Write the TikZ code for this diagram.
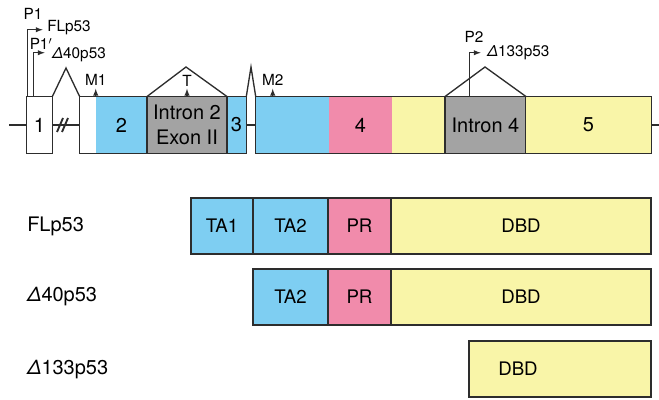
\documentclass[tikz,border=0pt]{standalone}
\usepackage{fontspec}
\setmainfont{TeX Gyre Heros}
\definecolor{tablue}{RGB}{126,206,242}
\definecolor{prpink}{RGB}{241,139,171}
\definecolor{dbdyellow}{RGB}{249,245,168}
\definecolor{introngray}{RGB}{163,163,163}
\definecolor{linecol}{RGB}{45,45,45}
\tikzstyle{part}=[rectangle,inner sep=0pt,minimum height=42pt,font=\fontsize{15}{18.5}\selectfont]
\tikzstyle{pdomain}=[part,draw=linecol,line width=1pt,font=\fontsize{14}{16}\selectfont]
\tikzstyle{wire}=[draw=linecol,line width=1pt]
\tikzstyle{site}=[draw=linecol,line width=0.8pt,-latex]
\tikzstyle{lbl}=[inner sep=0pt,font=\fontsize{11.5}{13}\selectfont]
\tikzstyle{iso}=[inner sep=0pt,anchor=west,font=\fontsize{15}{17}\selectfont]
\begin{document}
\begin{tikzpicture}[x=0.75pt,y=-0.75pt]
\useasboundingbox (0,0) rectangle (659,399);
% gene
\node[part,minimum width=18.75pt] (e1) at (39.5,125) {1};
\node[part,minimum width=12pt,fill=white] (e2a) at (88,125) {};
\node[part,minimum width=38.25pt,fill=tablue] (e2b) at (121.5,125) {2};
\node[part,minimum width=60pt,fill=introngray,align=center] (i2) at (187,125) {Intron 2\\Exon II};
\node[part,minimum width=14.25pt,fill=tablue] (e3) at (236.5,125) {3};
\node[part,minimum width=54.75pt,fill=tablue] (e4a) at (292.5,125) {};
\node[part,minimum width=47.25pt,fill=prpink] (e4b) at (360.5,125) {4};
\node[part,minimum width=39.75pt,fill=dbdyellow] (e4c) at (418.5,125) {};
\node[part,minimum width=60.75pt,fill=introngray] (i4) at (485.5,125) {Intron 4};
\node[part,minimum width=93.75pt,fill=dbdyellow] (e5) at (588.5,125) {5};
\draw[wire] (e1.north west) rectangle (e1.south east);
\draw[wire] (e2a.north west) rectangle (e2b.south east);
\draw[wire] (i2.north west) rectangle (i2.south east);
\draw[wire] (e3.north west) rectangle (e3.south east);
\draw[wire] (e4a.north west) rectangle (e4c.south east);
\draw[wire] (i4.north west) rectangle (e5.south east);
\draw[wire] (e5.north west) -- (e5.south west);

\coordinate (lend) at (9,125);
\coordinate (rend) at (659,125);
\coordinate (s1) at (66,68);
\coordinate (s2) at (251,67);
\coordinate (t2) at (186,67);
\coordinate (t4) at (485,67);
\draw[wire] (lend) -- (e1.west);
\draw[wire] (e1.east) -- (e2a.west);
\draw[wire] (e3.east) -- (e4a.west);
\draw[wire] (e5.east) -- (rend);
\draw[wire] (e1.north east) -- (s1) -- (e2a.north west);
\draw[wire] (e3.north east) -- (s2) -- (e4a.north west);
\draw[wire] (i2.north west) -- (t2) -- (i2.north east);
\draw[wire] (i4.north west) -- (t4) -- (i4.north east);
% break
\draw[wire,line width=1.4pt] (57,132) -- (63,118) (62,132) -- (68,118);

% sites
\draw[site] (e2b.north west) -- ++(0,-8) node[lbl,anchor=south,yshift=2pt] (m1) {M1};
\draw[site] (i2.north) -- ++(0,-8) node[lbl,anchor=south,yshift=1pt] (t) {T};
\draw[site] ([xshift=12.75pt]e4a.north west) -- ++(0,-8) node[lbl,anchor=south,yshift=2pt] (m2) {M2};

% promoters
\draw[site] ([xshift=0.75pt]e1.north west) |- ++(15,-67);
\draw[site] ([xshift=5.25pt]e1.north west) |- ++(11,-44);
\draw[site] ([xshift=18.75pt]i4.north west) |- ++(11,-44);
\node[lbl] (p1) at (33,14) {P1};
\node[lbl,anchor=west] (fl) at (47,28) {FLp53};
\node[lbl] (p1b) at (41,44) {P1$'$};
\node[lbl,anchor=west] (d40) at (52,55) {{\itshape Δ}40p53};
\node[lbl] (p2) at (474,37) {P2};
\node[lbl,anchor=west] (d133) at (487,53) {{\itshape Δ}133p53};

% isoforms
\node[iso] (lfl) at (27,226) {FLp53};
\node[iso] (l40) at (27,297) {{\itshape Δ}40p53};
\node[iso] (l133) at (27,370) {{\itshape Δ}133p53};
\node[pdomain,minimum width=46.5pt,fill=tablue] (ta1) at (222,226) {TA1};
\node[pdomain,minimum width=56.25pt,fill=tablue] (ta2) at (290.5,226) {TA2};
\node[pdomain,minimum width=47.25pt,fill=prpink] (pr) at (359.5,226) {PR};
\node[pdomain,minimum width=195pt,fill=dbdyellow] (dbd) at (521,226) {DBD};
\node[pdomain,minimum width=56.25pt,fill=tablue] (ta2b) at (290.5,297) {TA2};
\node[pdomain,minimum width=47.25pt,fill=prpink] (prb) at (359.5,297) {PR};
\node[pdomain,minimum width=195pt,fill=dbdyellow] (dbdb) at (521,297) {DBD};
\node[pdomain,minimum width=136.5pt,fill=dbdyellow] (dbdc) at (560,369) {};
\node[font=\fontsize{14}{16}\selectfont,inner sep=0pt] (dbdct) at (518,369) {DBD};
\end{tikzpicture}
\end{document}
